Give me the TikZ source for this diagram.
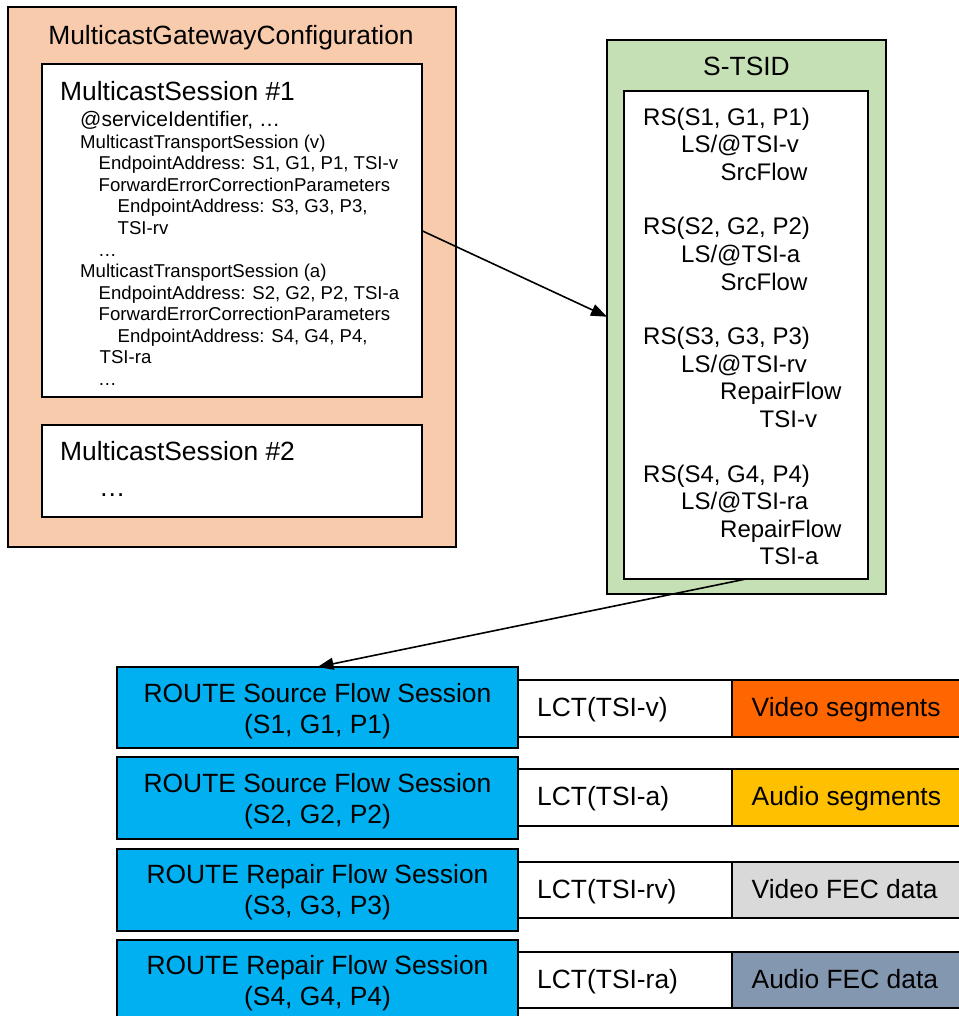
\documentclass[tikz,border=0pt]{standalone}
\usepackage{fontspec}
\setmainfont{Liberation Sans}
\usepackage{tikz}
\usetikzlibrary{arrows.meta}
\definecolor{gwcorange}{HTML}{F8CBAD}
\definecolor{stsidgreen}{HTML}{C5E0B4}
\definecolor{routeblue}{HTML}{00B0F0}
\definecolor{videoorange}{HTML}{FF6600}
\definecolor{audioyellow}{HTML}{FFC000}
\definecolor{videofecgray}{HTML}{D9D9D9}
\definecolor{audiofecblue}{HTML}{8497B0}
\tikzset{
  box/.style={draw, line width=2pt, anchor=north west, inner sep=0pt, outer sep=0pt},
  big/.style={font=\fontsize{26.4}{31}\selectfont, inner sep=0pt, anchor=base west},
  mid/.style={font=\fontsize{21}{21.5}\selectfont, inner sep=0pt, anchor=base west},
  small/.style={font=\fontsize{18.6}{21.5}\selectfont, inner sep=0pt, anchor=base west},
  rsline/.style={font=\fontsize{24}{27.5}\selectfont, inner sep=0pt, anchor=base west},
  flow/.style={line width=1.6pt, -{Triangle[length=16pt,width=12pt]}}
}
\begin{document}
\begin{tikzpicture}[x=1pt, y=-1pt]
	\useasboundingbox (0,0) rectangle (958,1016);
	% gateway configuration
	\node[box, fill=gwcorange, minimum width=448pt, minimum height=539.5pt] (gwc) at (7.5,7.5) {};
	\node[big, anchor=base] (gwctitle) at (231,44.7) {MulticastGatewayConfiguration};
	\node[box, fill=white, minimum width=380.5pt, minimum height=332.5pt] (ms1) at (41.5,64.5) {};
	\node[big] (ms1title) at (60,100.5) {MulticastSession \#1};
	\node[mid] (ms1l0) at (80,127) {@serviceIdentifier, …};
	\node[small] (ms1l1) at (80,148.5) {MulticastTransportSession (v)};
	\node[small] (ms1l2) at (98.5,170) {EndpointAddress: S1, G1, P1, TSI-v};
	\node[small] (ms1l3) at (98.5,191.5) {ForwardErrorCorrectionParameters};
	\node[small] (ms1l4) at (117.5,213) {EndpointAddress: S3, G3, P3,};
	\node[small] (ms1l5) at (117.5,234.5) {TSI-rv};
	\node[small] (ms1l6) at (98,256) {…};
	\node[small] (ms1l7) at (80,277.5) {MulticastTransportSession (a)};
	\node[small] (ms1l8) at (98.5,299) {EndpointAddress: S2, G2, P2, TSI-a};
	\node[small] (ms1l9) at (98.5,320.5) {ForwardErrorCorrectionParameters};
	\node[small] (ms1l10) at (117.5,342) {EndpointAddress: S4, G4, P4,};
	\node[small] (ms1l11) at (99.5,363.5) {TSI-ra};
	\node[small] (ms1l12) at (98,385) {…};
	\node[box, fill=white, minimum width=380.5pt, minimum height=92pt] (ms2) at (41.5,424.5) {};
	\node[big] (ms2title) at (60,460.7) {MulticastSession \#2};
	\node[big] (ms2dots) at (99,496) {…};
	% S-TSID
	\node[box, fill=stsidgreen, minimum width=279pt, minimum height=553.5pt] (stsid) at (607,40) {};
	\node[big, anchor=base] (stsidtitle) at (746.5,76) {S-TSID};
	\node[box, fill=white, minimum width=244pt, minimum height=488pt] (rsbox) at (624,91) {};
	\node[rsline] (rs1) at (643,125.2) {RS(S1, G1, P1)};
	\node[rsline] (ls1) at (681,152.7) {LS/@TSI-v};
	\node[rsline] (src1) at (720.5,180.1) {SrcFlow};
	\node[rsline] (rs2) at (643,235) {RS(S2, G2, P2)};
	\node[rsline] (ls2) at (681,262.5) {LS/@TSI-a};
	\node[rsline] (src2) at (720.5,290) {SrcFlow};
	\node[rsline] (rs3) at (643,344.9) {RS(S3, G3, P3)};
	\node[rsline] (ls3) at (681,372.3) {LS/@TSI-rv};
	\node[rsline] (rep3) at (720,399.8) {RepairFlow};
	\node[rsline] (tsi3) at (759.5,427.3) {TSI-v};
	\node[rsline] (rs4) at (643,482.2) {RS(S4, G4, P4)};
	\node[rsline] (ls4) at (681,509.6) {LS/@TSI-ra};
	\node[rsline] (rep4) at (720,537.1) {RepairFlow};
	\node[rsline] (tsi4) at (759.5,564.6) {TSI-a};
	% ROUTE sessions
	\node[box, fill=routeblue, minimum width=401pt, minimum height=81pt] (route1) at (117,667) {};
	\node[big, anchor=base] (route1a) at (317.5,702.7) {ROUTE Source Flow Session};
	\node[big, anchor=base] (route1b) at (317.5,733.7) {(S1, G1, P1)};
	\node[box, fill=white, minimum width=214pt, minimum height=57pt] (lct1) at (518,680) {};
	\node[big] (lct1txt) at (537,716.8) {LCT(TSI-v)};
	\node[box, fill=videoorange, minimum width=240pt, minimum height=57pt] (data1) at (732,680) {};
	\node[big] (data1txt) at (751.5,716.8) {Video segments};
	\node[box, fill=routeblue, minimum width=401pt, minimum height=82pt] (route2) at (117,757) {};
	\node[big, anchor=base] (route2a) at (317.5,792) {ROUTE Source Flow Session};
	\node[big, anchor=base] (route2b) at (317.5,823) {(S2, G2, P2)};
	\node[box, fill=white, minimum width=214pt, minimum height=56.5pt] (lct2) at (518,769) {};
	\node[big] (lct2txt) at (537,805.5) {LCT(TSI-a)};
	\node[box, fill=audioyellow, minimum width=240pt, minimum height=56.5pt] (data2) at (732,769) {};
	\node[big] (data2txt) at (751.5,805.5) {Audio segments};
	\node[box, fill=routeblue, minimum width=401pt, minimum height=82pt] (route3) at (117,849) {};
	\node[big, anchor=base] (route3a) at (317.5,883.5) {ROUTE Repair Flow Session};
	\node[big, anchor=base] (route3b) at (317.5,914.5) {(S3, G3, P3)};
	\node[box, fill=white, minimum width=214pt, minimum height=56pt] (lct3) at (518,862) {};
	\node[big] (lct3txt) at (537,898.2) {LCT(TSI-rv)};
	\node[box, fill=videofecgray, minimum width=240pt, minimum height=56pt] (data3) at (732,862) {};
	\node[big] (data3txt) at (751.5,898.2) {Video FEC data};
	\node[box, fill=routeblue, minimum width=401pt, minimum height=82pt] (route4) at (117,940) {};
	\node[big, anchor=base] (route4a) at (317.5,974.5) {ROUTE Repair Flow Session};
	\node[big, anchor=base] (route4b) at (317.5,1005.5) {(S4, G4, P4)};
	\node[box, fill=white, minimum width=214pt, minimum height=56pt] (lct4) at (518,952) {};
	\node[big] (lct4txt) at (537,988.2) {LCT(TSI-ra)};
	\node[box, fill=audiofecblue, minimum width=240pt, minimum height=56pt] (data4) at (732,952) {};
	\node[big] (data4txt) at (751.5,988.2) {Audio FEC data};
	% connectors
	\draw[flow] (ms1.east) -- (stsid.west);
	\draw[flow] (rsbox.south) -- (route1.north);
\end{tikzpicture}
\end{document}
